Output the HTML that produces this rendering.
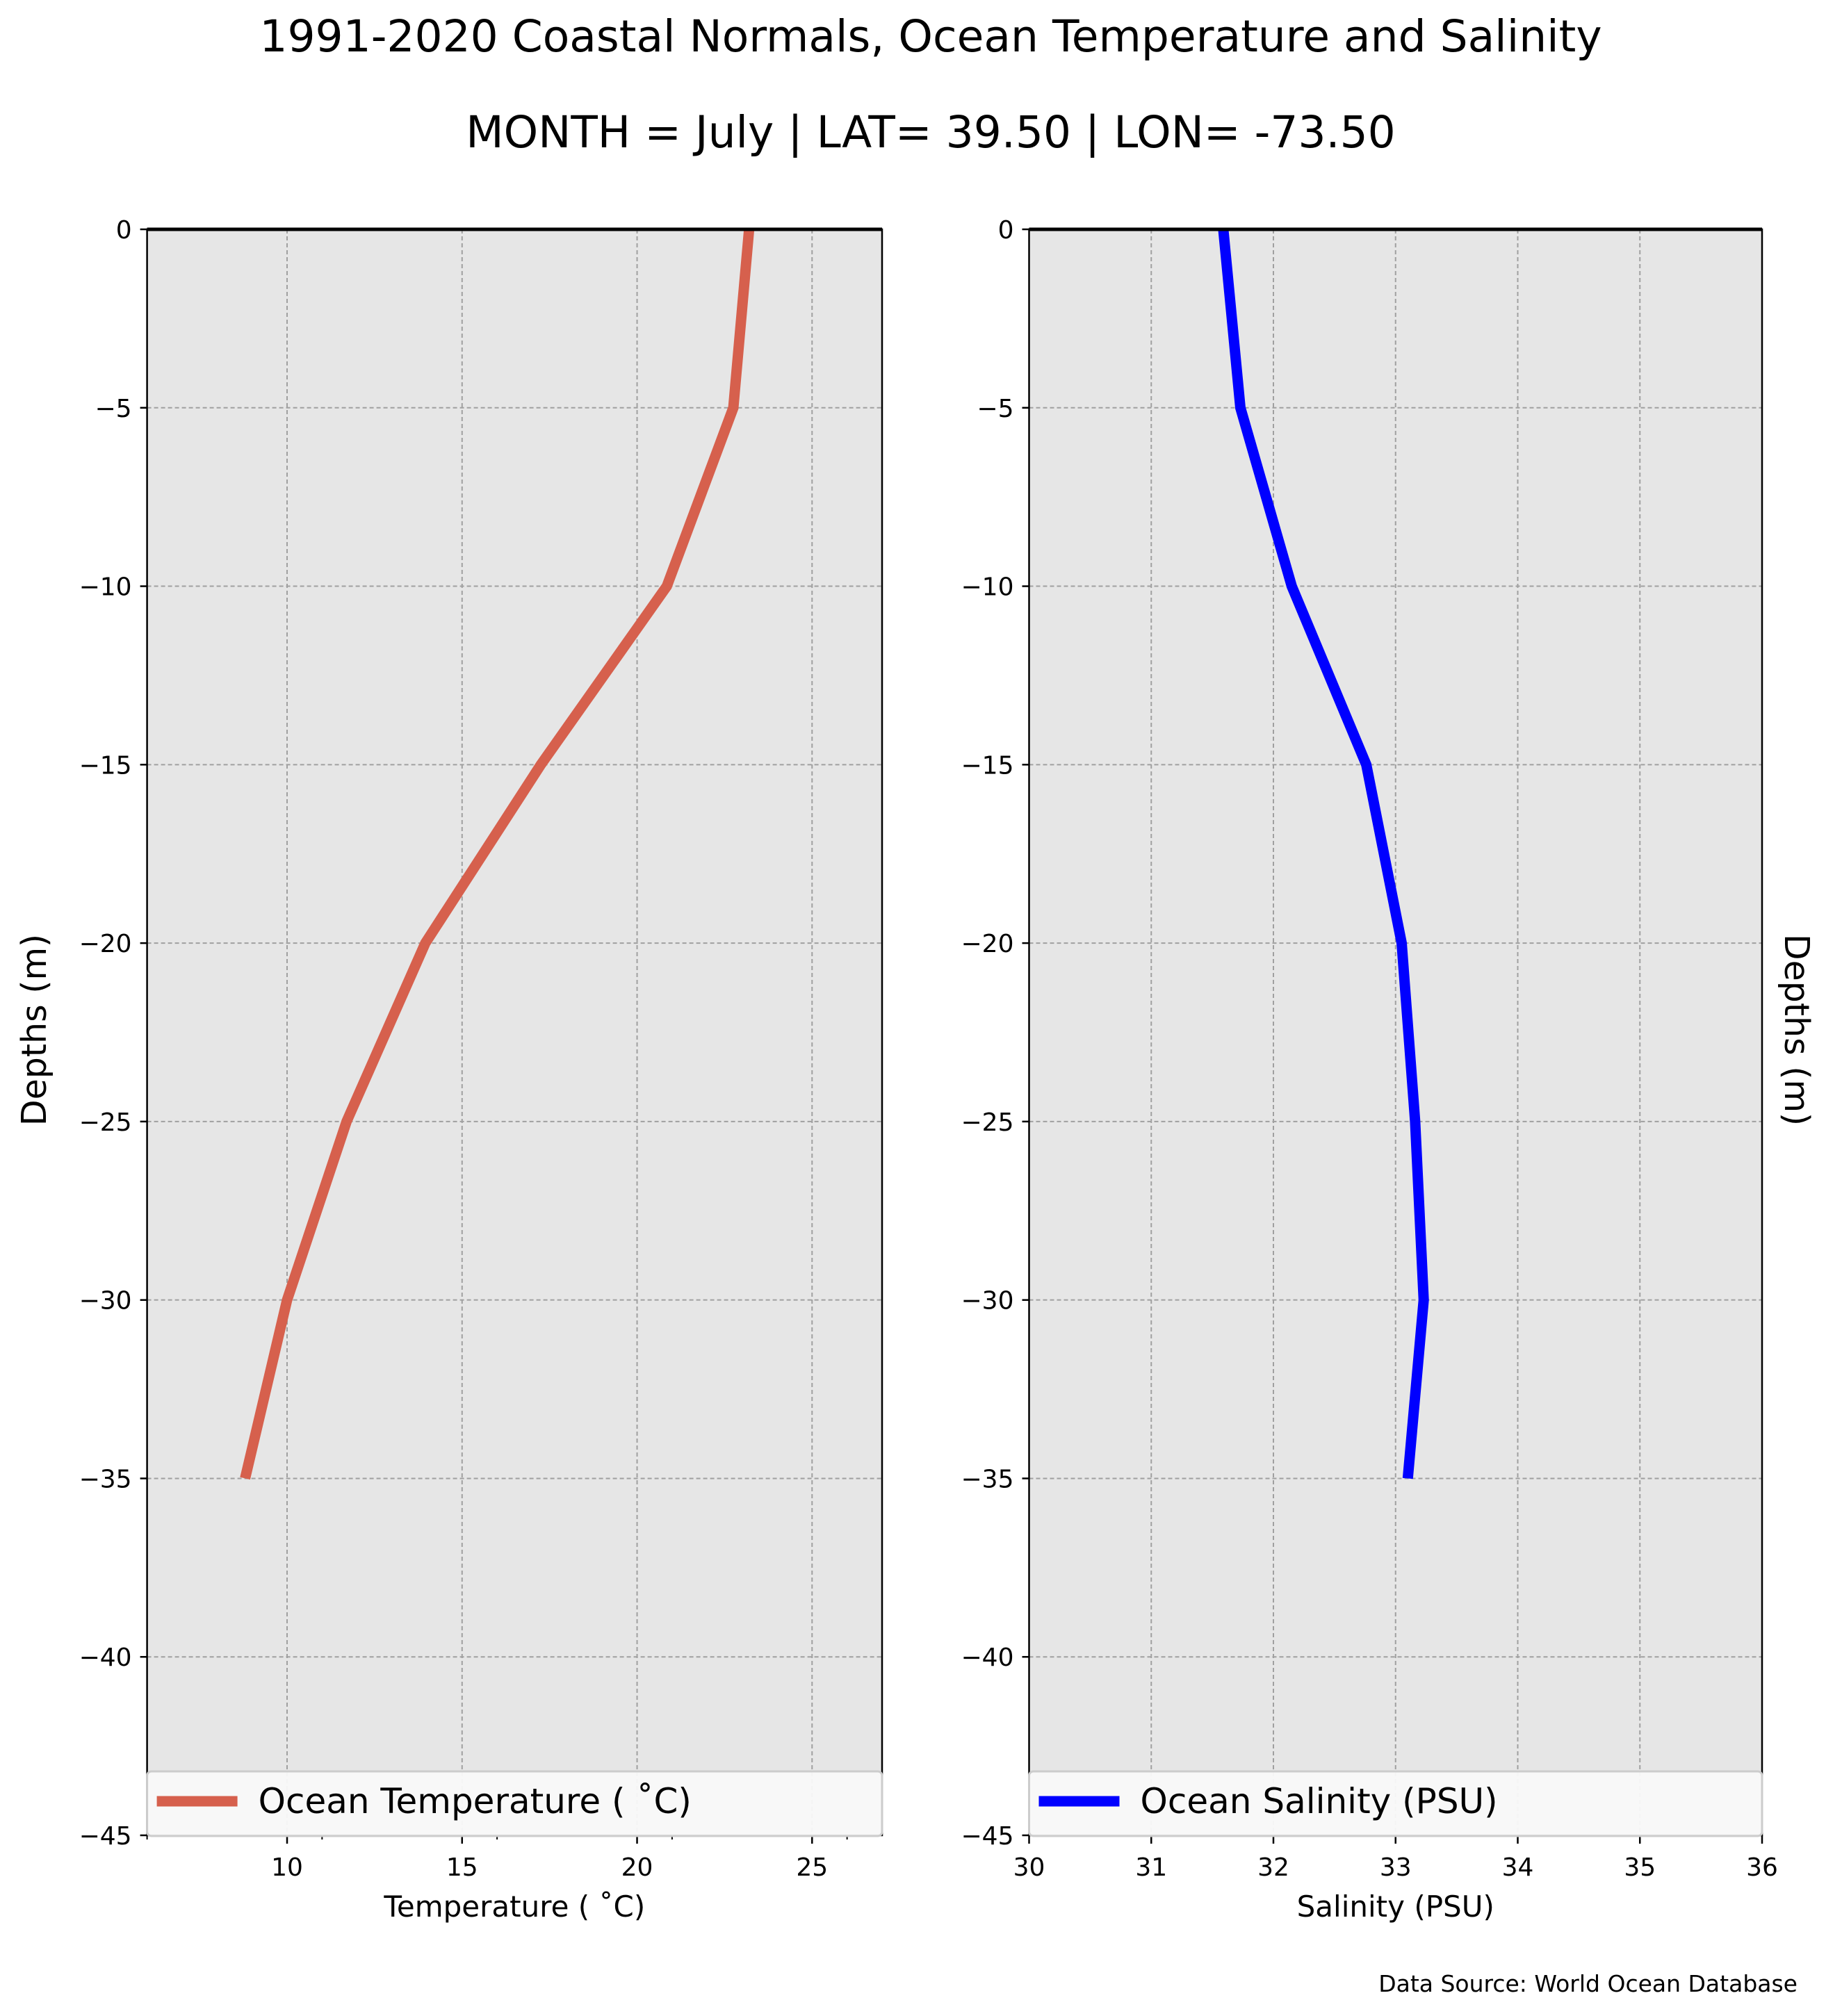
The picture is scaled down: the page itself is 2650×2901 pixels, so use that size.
<!DOCTYPE html>
<html><head><meta charset="utf-8"><style>
html,body{margin:0;padding:0;background:#fff;}
svg{display:block;font-family:"DejaVu Sans","Liberation Sans",sans-serif;}
</style></head><body>
<svg id="fig" width="2650" height="2901" viewBox="0 0 2650 2901" xmlns="http://www.w3.org/2000/svg">
<text x="1339" y="74" font-size="63" text-anchor="middle">1991-2020 Coastal Normals, Ocean Temperature and Salinity</text>
<text x="1339" y="212" font-size="63" text-anchor="middle">MONTH = July | LAT= 39.50 | LON= -73.50</text>
<g id="left"></g>
<g id="right"></g>
<text x="2586" y="2866" font-size="33" text-anchor="end">Data Source: World Ocean Database</text>
</svg>
<script>
const depths = [0, -5, -10, -15, -20, -25, -30, -35];
const temperature = [23.2, 22.75, 20.85, 17.25, 13.95, 11.7, 10.0, 8.8];
const salinity = [31.59, 31.73, 32.15, 32.76, 33.05, 33.16, 33.23, 33.1];
const yTicks = [0, -5, -10, -15, -20, -25, -30, -35, -40, -45];
const tempTicks = [10, 15, 20, 25];
const tempMinor = [6, 11, 16, 21, 26];
const salTicks = [30, 31, 32, 33, 34, 35, 36];

const NS = 'http://www.w3.org/2000/svg';
const TOP = 330, BOT = 2641;
const yScale = d => TOP + (0 - d) / 45 * (BOT - TOP);
function mk(parent, tag, attrs, text) {
  const e = document.createElementNS(NS, tag);
  for (const k in attrs) e.setAttribute(k, attrs[k]);
  if (text !== undefined) e.textContent = text;
  parent.appendChild(e);
  return e;
}
function panel(g, x0, x1, xmin, xmax, ticks, minor, xs, color, legendText, xlabel) {
  const xScale = v => x0 + (v - xmin) / (xmax - xmin) * (x1 - x0);
  const bg = mk(g, 'rect', {x: x0, y: TOP, width: x1 - x0, height: BOT - TOP, fill: '#e6e6e6'});
  
  
  yTicks.forEach(t => {
    const y = yScale(t);
    const gl = mk(g, 'line', {x1: x0, x2: x1, y1: y, y2: y, stroke: '#a0a0a0', 'stroke-width': 2, 'stroke-dasharray': '6,4'});
    
    
    mk(g, 'line', {x1: x0 - 10, x2: x0, y1: y, y2: y, stroke: '#000', 'stroke-width': 2.5});
    const tl = mk(g, 'text', {x: x0 - 22, y: y + 13, 'font-size': 36, 'text-anchor': 'end'}, t === 0 ? '0' : '\u2212' + Math.abs(t));
    
    
  });
  ticks.forEach(t => {
    const x = xScale(t);
    const gl = mk(g, 'line', {x1: x, x2: x, y1: TOP, y2: BOT, stroke: '#a0a0a0', 'stroke-width': 2, 'stroke-dasharray': '6,4'});
    
    
    mk(g, 'line', {x1: x, x2: x, y1: BOT, y2: BOT + 12, stroke: '#000', 'stroke-width': 2.5});
    const tl = mk(g, 'text', {x: x, y: BOT + 58, 'font-size': 36, 'text-anchor': 'middle'}, String(t));
    
    
  });
  minor.forEach(t => {
    const x = xScale(t);
    mk(g, 'line', {x1: x, x2: x, y1: BOT, y2: BOT + 6, stroke: '#000', 'stroke-width': 2});
  });
  const pts = depths.map((d, i) => xScale(xs[i]).toFixed(1) + ',' + yScale(d).toFixed(1)).join(' ');
  const line = mk(g, 'polyline', {points: pts, fill: 'none', stroke: color, 'stroke-width': 15, 'stroke-linejoin': 'miter'});
  
  
  const sp = mk(g, 'rect', {x: x0, y: TOP, width: x1 - x0, height: BOT - TOP, fill: 'none', stroke: '#000', 'stroke-width': 2.5});
  
  
  mk(g, 'line', {x1: x0, x2: x1, y1: TOP, y2: TOP, stroke: '#000', 'stroke-width': 5});
  const lg = mk(g, 'g', {});
  
  
  mk(lg, 'rect', {x: x0, y: 2549, width: x1 - x0, height: 93, rx: 6, fill: '#f9f9f9', stroke: '#cccccc', 'stroke-width': 3, 'fill-opacity': 0.95});
  const sw = mk(lg, 'line', {x1: x0 + 14, x2: x0 + 130, y1: 2592, y2: 2592, stroke: color, 'stroke-width': 15});
  
  
  const lt = mk(lg, 'text', {x: x0 + 160, y: 2609, 'font-size': 50}, legendText);
  
  
  const xl = mk(g, 'text', {x: (x0 + x1) / 2, y: 2758, 'font-size': 42, 'text-anchor': 'middle'}, xlabel);
  
  
}
panel(document.getElementById('left'), 211.6, 1269, 6, 27, tempTicks, tempMinor, temperature, '#d6604d', 'Ocean Temperature ( \u02DAC)', 'Temperature ( \u02DAC)');
panel(document.getElementById('right'), 1480.5, 2535, 30, 36, salTicks, [], salinity, '#0000ff', 'Ocean Salinity (PSU)', 'Salinity (PSU)');
const svg = document.getElementById('fig');
const yl = mk(svg, 'text', {x: 0, y: 0, 'font-size': 49, 'text-anchor': 'middle', transform: 'translate(66,1482) rotate(-90)'}, 'Depths (m)');


const yr = mk(svg, 'text', {x: 0, y: 0, 'font-size': 49, 'text-anchor': 'middle', transform: 'translate(2568,1482) rotate(90)'}, 'Depths (m)');


</script>
</body></html>
